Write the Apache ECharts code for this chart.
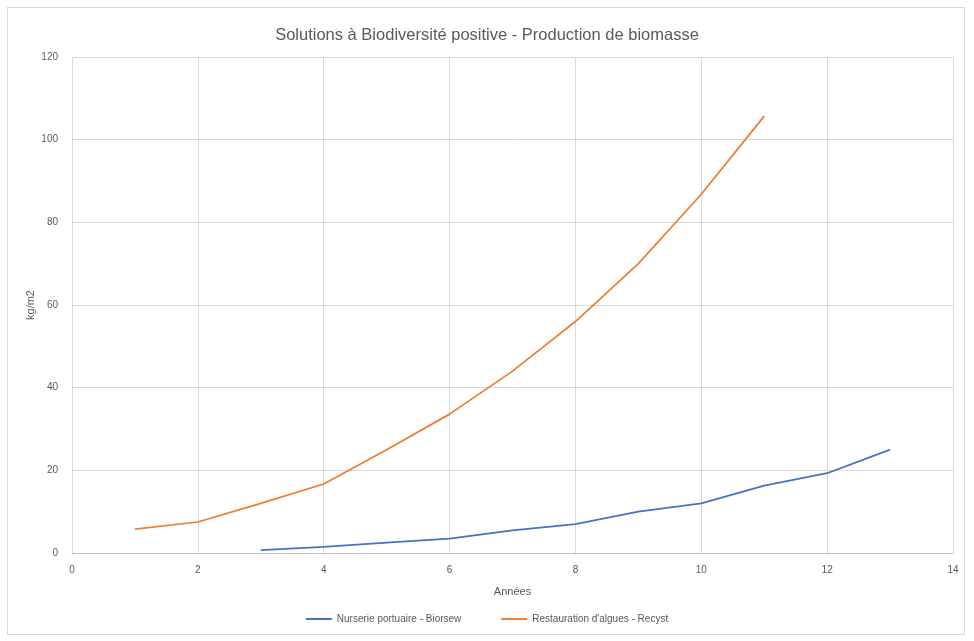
<!DOCTYPE html>
<html>
<head>
<meta charset="utf-8">
<script src="https://cdn.jsdelivr.net/npm/echarts@6/dist/echarts.min.js"></script>
<style>
  html, body { margin: 0; padding: 0; background: #fff; }
  #frame { position: absolute; left: 7px; top: 7px; width: 958px; height: 628px; border: 1px solid #d9d9d9; box-sizing: border-box; }
  #chart { width: 974px; height: 641px; position: absolute; left: 0; top: 0; }
</style>
</head>
<body>
<div id="frame"></div>
<div id="chart"></div>
<script>
// Years and biomass (kg/m2) for each solution
const yearsNurserie = [3, 4, 5, 6, 7, 8, 9, 10, 11, 12, 13];
const valuesNurserie = [0.7, 1.5, 2.5, 3.5, 5.5, 7, 10, 12, 16.3, 19.3, 25];
const yearsAlgues = [1, 2, 3, 4, 5, 6, 7, 8, 9, 10, 11];
const valuesAlgues = [5.8, 7.5, 12, 16.7, 25, 33.6, 44, 56, 70, 86.8, 105.7];
const seriesNames = ['Nurserie portuaire - Biorsew', "Restauration d'algues - Recyst"];
const titleText = 'Solutions à Biodiversité positive - Production de biomasse';

const font = '"Liberation Sans", sans-serif';
const pair = (xs, ys) => xs.map((x, i) => [x, ys[i]]);

const chart = echarts.init(document.getElementById('chart'));
chart.setOption({
  animation: false,
  textStyle: { fontFamily: font, color: '#595959' },
  title: {
    text: titleText, left: 'center', top: 22,
    textStyle: { fontFamily: font, fontSize: 16.5, fontWeight: 'normal', color: '#595959' }
  },
  legend: {
    bottom: 12, left: 'center', itemGap: 40, itemWidth: 26, itemHeight: 2,
    icon: 'rect',
    textStyle: { fontFamily: font, fontSize: 10, color: '#595959' },
    data: seriesNames
  },
  grid: { left: 72, right: 21, top: 57, bottom: 88 },
  xAxis: {
    type: 'value', min: 0, max: 14, interval: 2,
    name: 'Années', nameLocation: 'middle', nameGap: 33,
    nameTextStyle: { fontFamily: font, fontSize: 11, color: '#595959' },
    axisLine: { lineStyle: { color: '#bfbfbf' } },
    axisTick: { show: false },
    axisLabel: { fontSize: 10, color: '#595959', margin: 12 },
    splitLine: { show: true, lineStyle: { color: '#d9d9d9' } }
  },
  yAxis: {
    type: 'value', min: 0, max: 120, interval: 20,
    name: 'kg/m2', nameLocation: 'middle', nameGap: 36, nameMoveOverlap: false,
    nameTextStyle: { fontFamily: font, fontSize: 11, color: '#595959' },
    axisLine: { show: false },
    axisTick: { show: false },
    axisLabel: { fontSize: 10, color: '#595959', margin: 14 },
    splitLine: { show: true, lineStyle: { color: '#d9d9d9' } }
  },
  series: [
    {
      name: seriesNames[0], type: 'line', data: pair(yearsNurserie, valuesNurserie),
      showSymbol: false, lineStyle: { color: '#4472C4', width: 1.75 }, itemStyle: { color: '#4472C4' }
    },
    {
      name: seriesNames[1], type: 'line', data: pair(yearsAlgues, valuesAlgues),
      showSymbol: false, lineStyle: { color: '#ED7D31', width: 1.75 }, itemStyle: { color: '#ED7D31' }
    }
  ]
});
</script>
</body>
</html>
